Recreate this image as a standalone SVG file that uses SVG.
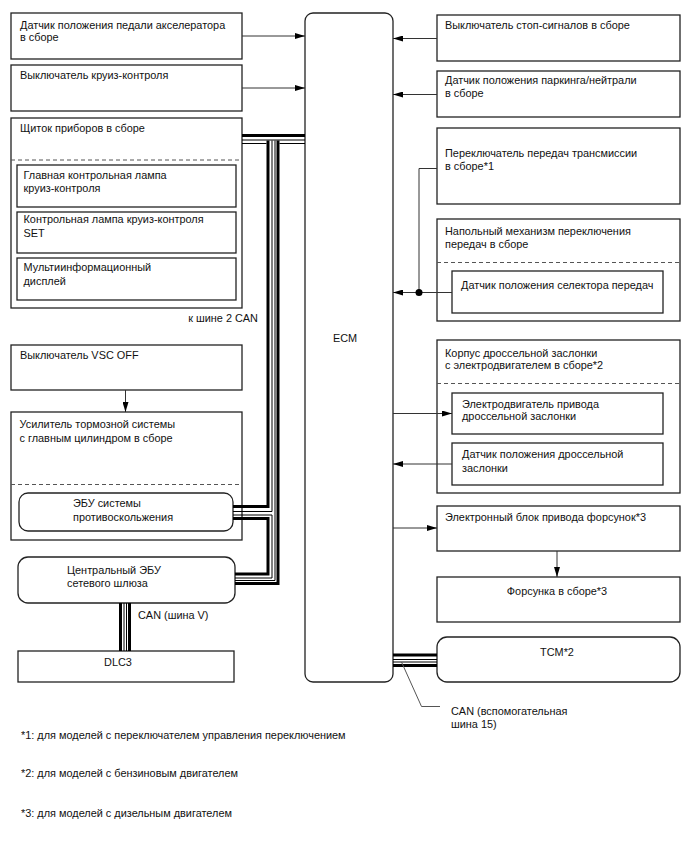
<svg xmlns="http://www.w3.org/2000/svg" width="688" height="852" viewBox="0 0 688 852">
<defs>
<style>
text{font-family:"Liberation Sans",Arial,sans-serif;font-size:10.9px;fill:#111}
.box{fill:#fff;stroke:#222;stroke-width:1.3}
.dash{fill:none;stroke:#555;stroke-width:1;stroke-dasharray:4,3}
.ln{fill:none;stroke:#333;stroke-width:1}
.thk{fill:none;stroke:#000;stroke-width:3;stroke-linejoin:miter}
.thn{fill:none;stroke:#000;stroke-width:1;stroke-linejoin:miter}
.ld{fill:none;stroke:#555;stroke-width:1}
.mid{text-anchor:middle}
</style>
<marker id="ah" viewBox="0 0 10 6" refX="10" refY="3" markerWidth="10" markerHeight="6" markerUnits="userSpaceOnUse" orient="auto">
<path d="M0,0 L10,3 L0,6 Z" fill="#000"/>
</marker>
</defs>
<rect width="688" height="852" fill="#fff"/>

<g id="ecm"><rect class="box" x="305" y="13" width="88" height="669" rx="8"/><text x="345" y="342" class="mid">ECM</text></g>

<g id="accel"><rect class="box" x="11" y="13" width="231" height="46"/><text x="20" y="29">Датчик положения педали акселератора</text><text x="20" y="41.3">в сборе</text></g>
<g id="cruise-sw"><rect class="box" x="11" y="65" width="231" height="46"/><text x="20" y="79">Выключатель круиз-контроля</text></g>
<g id="cluster"><rect class="box" x="11" y="118" width="231" height="190"/><text x="20" y="132">Щиток приборов в сборе</text><line class="dash" x1="11" y1="160" x2="242" y2="160"/>
<g id="main-lamp"><rect class="box" x="17" y="165" width="219" height="42"/><text x="23.5" y="179">Главная контрольная лампа</text><text x="23.5" y="192.3">круиз-контроля</text></g>
<g id="set-lamp"><rect class="box" x="17" y="212" width="219" height="41"/><text x="23.5" y="223.3">Контрольная лампа круиз-контроля</text><text x="23.5" y="236.7">SET</text></g>
<g id="multi"><rect class="box" x="17" y="258" width="219" height="42"/><text x="23.5" y="271.3">Мультиинформационный</text><text x="23.5" y="284.7">дисплей</text></g>
</g>
<g id="can2-label"><text x="258" y="321.5" text-anchor="end">к шине 2 CAN</text></g>
<g id="vsc"><rect class="box" x="11" y="345" width="231" height="45"/><text x="20" y="359">Выключатель VSC OFF</text></g>
<g id="brake"><rect class="box" x="11" y="412" width="231" height="128"/><text x="19.5" y="428.3">Усилитель тормозной системы</text><text x="19.5" y="441.7">с главным цилиндром в сборе</text><line class="dash" x1="11" y1="484.5" x2="242" y2="484.5"/>
<g id="skid"><rect class="box" x="19" y="493" width="214" height="38" rx="9"/><text x="73" y="507">ЭБУ системы</text><text x="73" y="520.7">противоскольжения</text></g>
</g>
<g id="gateway"><rect class="box" x="18" y="557" width="217" height="46" rx="10"/><text x="67" y="574">Центральный ЭБУ</text><text x="67" y="586.7">сетевого шлюза</text></g>
<g id="dlc3"><rect class="box" x="18" y="651" width="216" height="31"/><text x="118" y="665.7" class="mid">DLC3</text></g>
<g id="canv-label"><text x="138" y="619">CAN (шина V)</text></g>

<g id="stop"><rect class="box" x="437" y="15" width="243" height="46"/><text x="445" y="29">Выключатель стоп-сигналов в сборе</text></g>
<g id="pn"><rect class="box" x="437" y="71" width="243" height="46"/><text x="445" y="84">Датчик положения паркинга/нейтрали</text><text x="445" y="97.3">в сборе</text></g>
<g id="shift"><rect class="box" x="437" y="128" width="243" height="76"/><text x="445" y="157.3">Переключатель передач трансмиссии</text><text x="445" y="169.7">в сборе*1</text></g>
<g id="floor"><rect class="box" x="437" y="219" width="243" height="102"/><text x="445" y="235">Напольный механизм переключения</text><text x="445" y="248.3">передач в сборе</text><line class="dash" x1="437" y1="262.5" x2="680" y2="262.5"/>
<g id="selector"><rect class="box" x="452" y="271" width="211" height="42"/><text x="461" y="289">Датчик положения селектора передач</text></g>
</g>
<g id="throttle"><rect class="box" x="437" y="340" width="243" height="153"/><text x="445" y="356.7">Корпус дроссельной заслонки</text><text x="445" y="369">с электродвигателем в сборе*2</text><line class="dash" x1="437" y1="383.5" x2="680" y2="383.5"/>
<g id="throttle-motor"><rect class="box" x="452" y="393" width="211" height="41"/><text x="462" y="408">Электродвигатель привода</text><text x="462" y="420">дроссельной заслонки</text></g>
<g id="throttle-sensor"><rect class="box" x="452" y="443" width="211" height="42"/><text x="462" y="458">Датчик положения дроссельной</text><text x="462" y="471.7">заслонки</text></g>
</g>
<g id="inj-driver"><rect class="box" x="437" y="506" width="243" height="45"/><text x="445" y="520.7">Электронный блок привода форсунок*3</text></g>
<g id="injector"><rect class="box" x="437" y="577" width="243" height="45"/><text x="557" y="594.7" class="mid">Форсунка в сборе*3</text></g>
<g id="tcm"><rect class="box" x="437" y="637" width="243" height="45" rx="10"/><text x="557" y="655.7" class="mid">TCM*2</text></g>
<g id="can15-label"><text x="451" y="714.7">CAN (вспомогательная</text><text x="451" y="728">шина 15)</text></g>

<g id="notes"><text x="21" y="739">*1: для моделей с переключателем управления переключением</text><text x="21" y="777">*2: для моделей с бензиновым двигателем</text><text x="21" y="817">*3: для моделей с дизельным двигателем</text></g>

<g id="connectors">
<line class="ln" x1="242" y1="36" x2="305" y2="36" marker-end="url(#ah)"/>
<line class="ln" x1="242" y1="88" x2="305" y2="88" marker-end="url(#ah)"/>
<line class="ln" x1="437" y1="38.5" x2="393" y2="38.5" marker-end="url(#ah)"/>
<line class="ln" x1="437" y1="94.5" x2="393" y2="94.5" marker-end="url(#ah)"/>
<polyline class="ln" points="437,168.5 419,168.5 419,292.5"/>
<line class="ln" x1="452" y1="292.5" x2="393" y2="292.5" marker-end="url(#ah)"/>
<circle cx="419" cy="292.5" r="3.5" fill="#000"/>
<line class="ln" x1="393" y1="413.5" x2="452" y2="413.5" marker-end="url(#ah)"/>
<line class="ln" x1="452" y1="464" x2="393" y2="464" marker-end="url(#ah)"/>
<line class="ln" x1="393" y1="528" x2="437" y2="528" marker-end="url(#ah)"/>
<line class="ln" x1="557" y1="551" x2="557" y2="577" marker-end="url(#ah)"/>
<line class="ln" x1="125.5" y1="390" x2="125.5" y2="412" marker-end="url(#ah)"/>
<g id="can-left">
<line class="thk" x1="242" y1="135.5" x2="305" y2="135.5"/>
<line class="thn" x1="242" y1="140" x2="305" y2="140"/>
<line class="thn" x1="242" y1="143.5" x2="266.5" y2="143.5"/>
<line class="thn" x1="279.5" y1="143.5" x2="305" y2="143.5"/>
<path class="thk" d="M268,140.5 V506.5 H233"/>
<path class="thn" d="M272,140.5 V511.5 H233"/>
<path class="thn" d="M275,140.5 V580.5 H235"/>
<path class="thk" d="M278,140.5 V583.5 H235"/>
<path class="thn" d="M233,515 H272 V578 H235"/>
<path class="thk" d="M233,518.5 H268 V574 H235"/>
</g>
<g id="can-dlc">
<line class="thk" x1="120.5" y1="603" x2="120.5" y2="651"/>
<line class="thn" x1="124" y1="603" x2="124" y2="651"/>
<line class="thn" x1="126.5" y1="603" x2="126.5" y2="651"/>
<line class="thk" x1="129.5" y1="603" x2="129.5" y2="651"/>
</g>
<g id="can-tcm">
<line class="thk" x1="393" y1="655" x2="437" y2="655"/>
<line class="thn" x1="393" y1="659.5" x2="437" y2="659.5"/>
<line class="thn" x1="393" y1="662" x2="437" y2="662"/>
<line class="thk" x1="393" y1="665.5" x2="437" y2="665.5"/>
</g>
<polyline class="ld" points="401.5,662 421.5,706.5 440,706.5"/>
</g>
</svg>
